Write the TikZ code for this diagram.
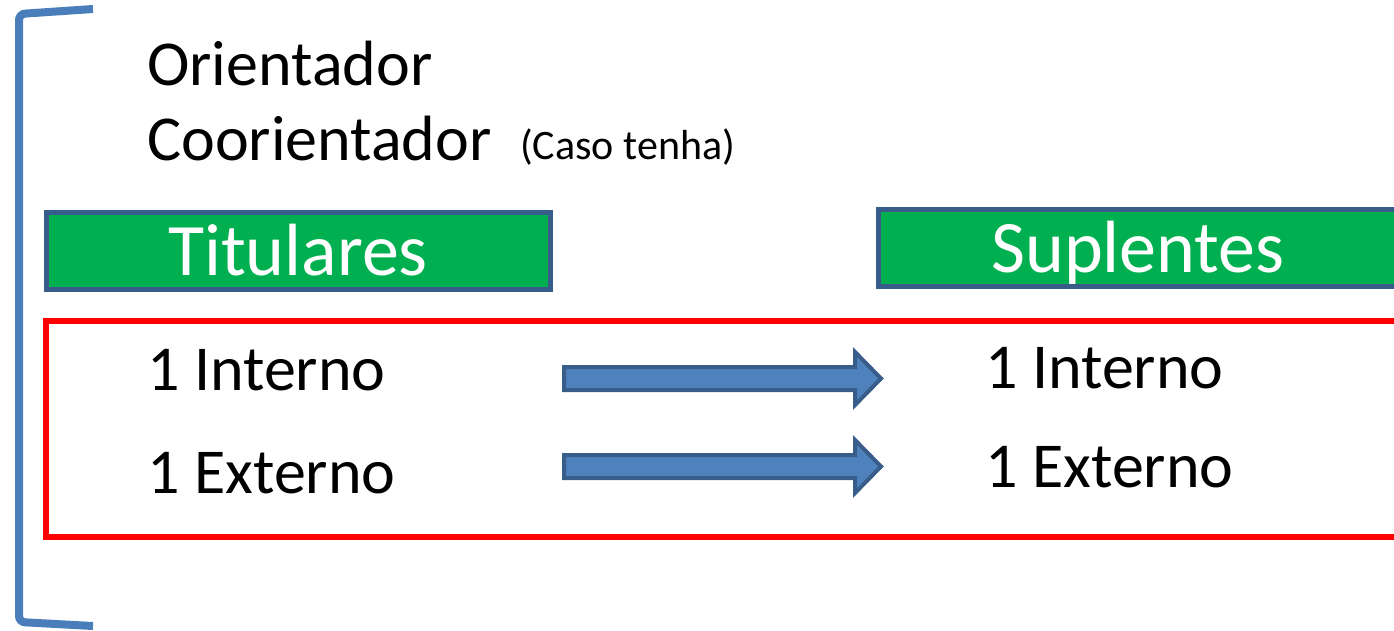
\documentclass[tikz,border=0pt]{standalone}
\usepackage{fontspec}
\setmainfont{Carlito}

\definecolor{bracketblue}{HTML}{4A7EBB}
\definecolor{arrowblue}{HTML}{4F81BD}
\definecolor{edgeblue}{HTML}{385D8A}
\definecolor{titlegreen}{HTML}{00B050}

\tikzset{
  bigtext/.style={anchor=base west,inner sep=0pt,font=\fontsize{64}{77}\selectfont},
  smalltext/.style={anchor=base west,inner sep=0pt,font=\fontsize{42}{50}\selectfont},
  header/.style={draw=edgeblue,line width=5pt,fill=titlegreen,text=white,
    minimum height=77pt,text height=49pt,text depth=0pt,inner sep=0pt,
    font=\fontsize{74}{89}\selectfont},
  blockarrow/.style={draw=edgeblue,line width=4pt,fill=arrowblue},
}

\begin{document}
\begin{tikzpicture}[x=1pt,y=-1pt]
    \useasboundingbox (0,0) rectangle (1394,630);
    \clip (0,0) rectangle (1394,630);

      % bracket on the left
      \draw[bracketblue,line width=8pt,rounded corners=6pt]
        (93,9) -- (19,14) -- (19,622) -- (93,626);

      \node[bigtext] (ori)  at (147,85)  {Orientador};
      \node[bigtext] (coo)  at (147,160) {Coorientador};
      \node[smalltext] (caso) at (520,159) {(Caso tenha)};

      \node[header,minimum width=504pt] (tit) at (298,250.5) {Titulares};
      \node[header,minimum width=520pt] (sup) at (1138,247.5) {Suplentes};

      % members
      \draw[red,line width=5.5pt] (46,321) rectangle (1400,537);

      \begin{scope}[every node/.style={bigtext}]
        \node (int1) at (147,390) {1 Interno};
        \node (ext1) at (147,493) {1 Externo};
        \node (int2) at (985,388) {1 Interno};
        \node (ext2) at (985,487) {1 Externo};
      \end{scope}

      \draw[blockarrow] (564,367) -- (855,367) -- (855,352) -- (881,378.5)
        -- (855,405) -- (855,390) -- (564,390) -- cycle;
      \draw[blockarrow] (564,455) -- (855,455) -- (855,440) -- (881,466.5)
        -- (855,493) -- (855,478) -- (564,478) -- cycle;

    \end{tikzpicture}
\end{document}
